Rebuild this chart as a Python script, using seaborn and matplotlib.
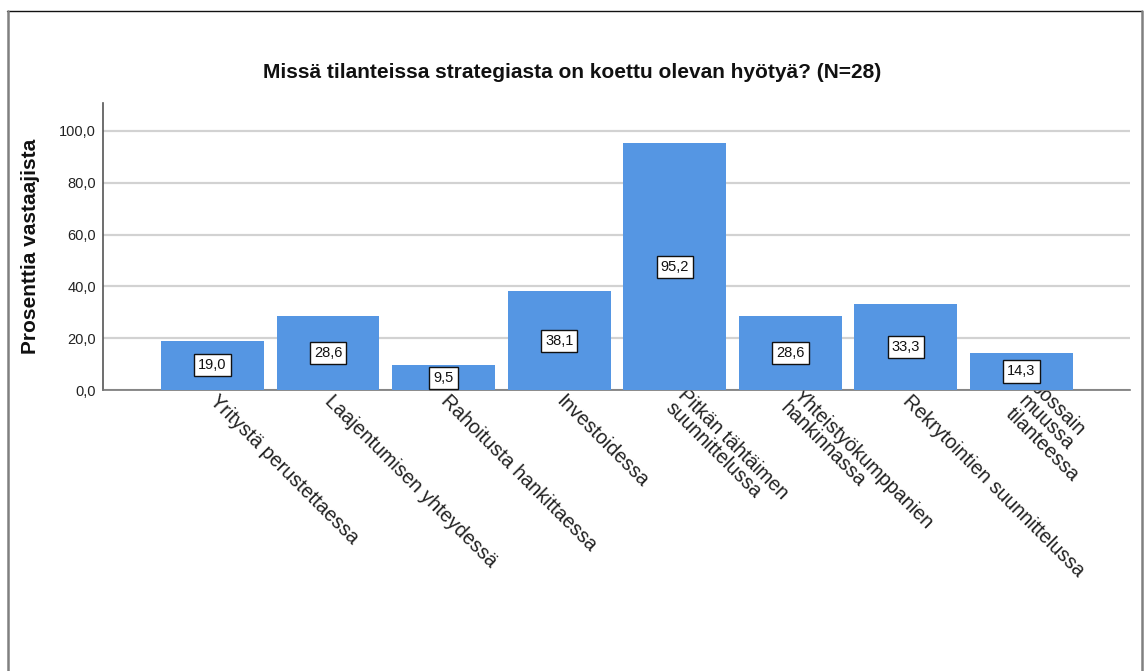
import matplotlib
matplotlib.use("Agg")
import matplotlib.pyplot as plt
from matplotlib.lines import Line2D
import seaborn as sns
import pandas as pd

# Survey answers: share of respondents (%) per situation
categories = [
    "Yritystä perustettaessa",
    "Laajentumisen yhteydessä",
    "Rahoitusta hankittaessa",
    "Investoidessa",
    "Pitkän tähtäimen\nsuunnittelussa",
    "Yhteistyökumppanien\nhankinnassa",
    "Rekrytointien suunnittelussa",
    "Jossain\nmuussa\ntilanteessa",
]
values = [19.0, 28.6, 9.5, 38.1, 95.2, 28.6, 33.3, 14.3]
y_ticks = [0, 20, 40, 60, 80, 100]
title = "Missä tilanteissa strategiasta on koettu olevan hyötyä? (N=28)"
y_label = "Prosenttia vastaajista"

df = pd.DataFrame({"tilanne": categories, "osuus": values})

sns.set_theme(style="white")
plt.rcParams["font.family"] = ["Liberation Sans", "DejaVu Sans"]

W, H = 1144, 671
fig = plt.figure(figsize=(W / 100, H / 100), dpi=100)
ax = fig.add_axes([103 / W, 1 - 390 / H, (1130 - 103) / W, (390 - 103) / H])

bar_color = "#5596E3"
sns.barplot(data=df, x="tilanne", y="osuus", color=bar_color, width=0.89,
            saturation=1, ax=ax, zorder=3, edgecolor="none")

ax.set_xlim(-0.9475, 7.939)
ax.set_ylim(0, 110.8)

# Horizontal grid lines
ax.set_yticks(y_ticks)
ax.set_yticklabels([f"{t:.1f}".replace(".", ",") for t in y_ticks], fontsize=10.5,
                   color="#222222")
ax.yaxis.grid(True, color="#D2D2D2", linewidth=1.6, zorder=0)
ax.xaxis.grid(False)
ax.set_axisbelow(True)

for side in ["top", "right"]:
    ax.spines[side].set_visible(False)
ax.spines["left"].set_color("#555555")
ax.spines["left"].set_linewidth(1.2)
ax.spines["bottom"].set_color("#777777")
ax.spines["bottom"].set_linewidth(1.2)
ax.tick_params(axis="both", length=0)
ax.tick_params(axis="y", pad=5)
ax.tick_params(axis="x", pad=6)

ax.set_xticks(range(len(categories)))
ax.set_xticklabels(categories, rotation=-45, ha="left", va="center",
                   rotation_mode="anchor", fontsize=14.2, color="#222222",
                   linespacing=0.95)
ax.set_xlabel("")
ax.set_ylabel(y_label, fontsize=15, fontweight="bold", color="#111111", labelpad=14)

# Value labels in boxes at mid-height of each bar
for i, v in enumerate(values):
    ax.text(i, v / 2, f"{v:.1f}".replace(".", ","), ha="center", va="center",
            fontsize=10.5, color="#111111", zorder=5,
            bbox=dict(boxstyle="square,pad=0.28", facecolor="white",
                      edgecolor="#111111", linewidth=1))

fig.text(572 / W, 1 - 72 / H, title, ha="center", va="center", fontsize=15,
         fontweight="bold", color="#111111")

# Outer frame
fig.add_artist(Line2D([7 / W, 1142 / W], [1 - 11 / H, 1 - 11 / H],
                      transform=fig.transFigure, color="#111111", linewidth=1))
fig.add_artist(Line2D([8 / W, 8 / W], [0, 1 - 11 / H],
                      transform=fig.transFigure, color="#808080", linewidth=1.8))
fig.add_artist(Line2D([1142 / W, 1142 / W], [0, 1 - 11 / H],
                      transform=fig.transFigure, color="#808080", linewidth=1.8))

fig.savefig("out.png", dpi=100, facecolor="white")
